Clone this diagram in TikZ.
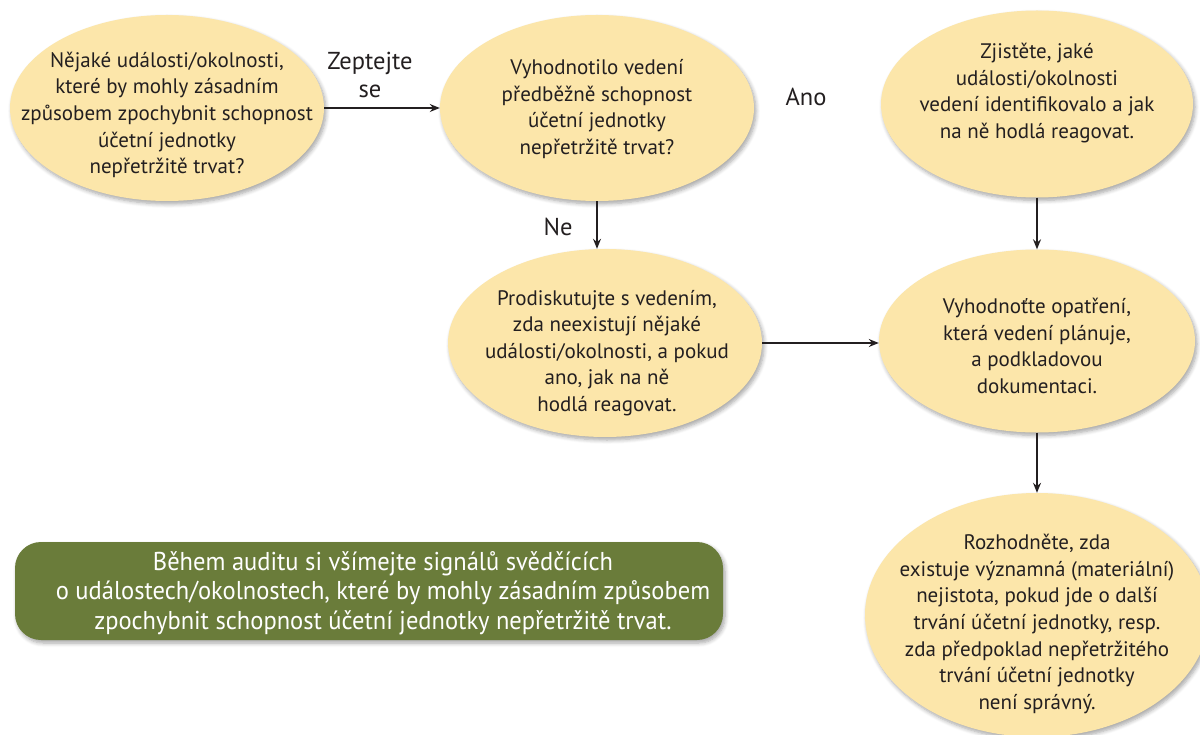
\documentclass[tikz,border=0pt]{standalone}
\usepackage{fontspec}
\setmainfont{PT Sans}
\newfontfamily\narrowfont[FakeStretch=0.95]{PT Sans}
\usetikzlibrary{shapes.geometric,arrows.meta,shadows.blur}

\definecolor{bubblefill}{HTML}{FCE6AA}
\definecolor{notegreen}{HTML}{6A7C3A}
\definecolor{inktext}{HTML}{231F20}

\tikzset{
  bubble/.style={ellipse, fill=bubblefill, draw=none, inner sep=0pt,
    blur shadow={shadow xshift=2pt, shadow yshift=-3pt,
      shadow blur radius=4pt, shadow blur steps=6, shadow opacity=35}},
  bubbletext/.style={align=center, text=inktext, inner sep=0pt,
    font=\fontsize{21}{26.6}\selectfont},
  flowlabel/.style={align=center, text=inktext, inner sep=0pt,
    font=\fontsize{24.5}{28}\selectfont},
  arr/.style={-{Stealth[length=10pt,width=8pt]}, line width=1.3pt, draw=inktext},
  notebox/.style={rectangle, rounded corners=26pt, fill=notegreen, draw=none,
    minimum width=708pt, minimum height=98pt, inner sep=0pt,
    blur shadow={shadow xshift=2pt, shadow yshift=-3pt,
      shadow blur radius=4pt, shadow blur steps=6, shadow opacity=35}},
  notetext/.style={align=center, text=white, inner sep=0pt,
    font=\narrowfont\fontsize{25.8}{29.5}\selectfont}
}

\begin{document}
\begin{tikzpicture}[x=1pt,y=-1pt]
\useasboundingbox (0,0) rectangle (1200,735);
\begin{scope}
\clip (0,0) rectangle (1200,735);

% question bubbles, top row
\node[bubble, minimum width=314pt, minimum height=186pt] (q1) at (167,108) {};
\node[bubbletext] (q1t) at (167,115) {Nějaké události/okolnosti,\\které by mohly zásadním\\způsobem zpochybnit schopnost\\účetní jednotky\\nepřetržitě trvat?};

\node[bubble, minimum width=314pt, minimum height=186pt] (q2) at (597,108) {};
\node[bubbletext] (q2t) at (597,109) {Vyhodnotilo vedení\\předběžně schopnost\\účetní jednotky\\nepřetržitě trvat?};

\node[bubble, minimum width=312pt, minimum height=187pt] (q3) at (1037,104) {};
\node[bubbletext] (q3t) at (1037,93) {Zjistěte, jaké\\události/okolnosti\\vedení identifikovalo a jak\\na ně hodlá reagovat.};

% middle row
\node[bubble, minimum width=314pt, minimum height=188pt] (q4) at (605,343) {};
\node[bubbletext] (q4t) at (607,353) {Prodiskutujte s vedením,\\zda neexistují nějaké\\události/okolnosti, a pokud\\ano, jak na ně\\hodlá reagovat.};

\node[bubble, minimum width=316pt, minimum height=183pt] (q5) at (1037,341) {};
\node[bubbletext] (q5t) at (1037,346) {Vyhodnoťte opatření,\\která vedení plánuje,\\a podkladovou\\dokumentaci.};

% conclusion bubble, bottom right
\node[bubble, minimum width=344pt, minimum height=244pt] (q6) at (1037,615) {};
\node[bubbletext] (q6t) at (1037,624) {Rozhodněte, zda\\existuje významná (materiální)\\nejistota, pokud jde o další\\trvání účetní jednotky, resp.\\zda předpoklad nepřetržitého\\trvání účetní jednotky\\není správný.};

% green note
\node[notebox] (note) at (369,591) {};
\node[notetext] (notet) at (383,593) {Během auditu si všímejte signálů svědčících\\o událostech/okolnostech, které by mohly zásadním způsobem\\zpochybnit schopnost účetní jednotky nepřetržitě trvat.};

% connectors
\draw[arr] (q1.east) -- (q2.west);
\draw[arr] (q2.south) -- (q2.south |- q4.north);
\draw[arr] (q3.south) -- (q5.north);
\draw[arr] (q4.east) -- (q4.east -| q5.west);
\draw[arr] (q5.south) -- (q6.north);

% connector labels
\node[flowlabel] (lask) at (370,75) {Zeptejte\\se};
\node[flowlabel] (lyes) at (806,97) {Ano};
\node[flowlabel] (lno) at (558,227) {Ne};
\end{scope}
\end{tikzpicture}
\end{document}
